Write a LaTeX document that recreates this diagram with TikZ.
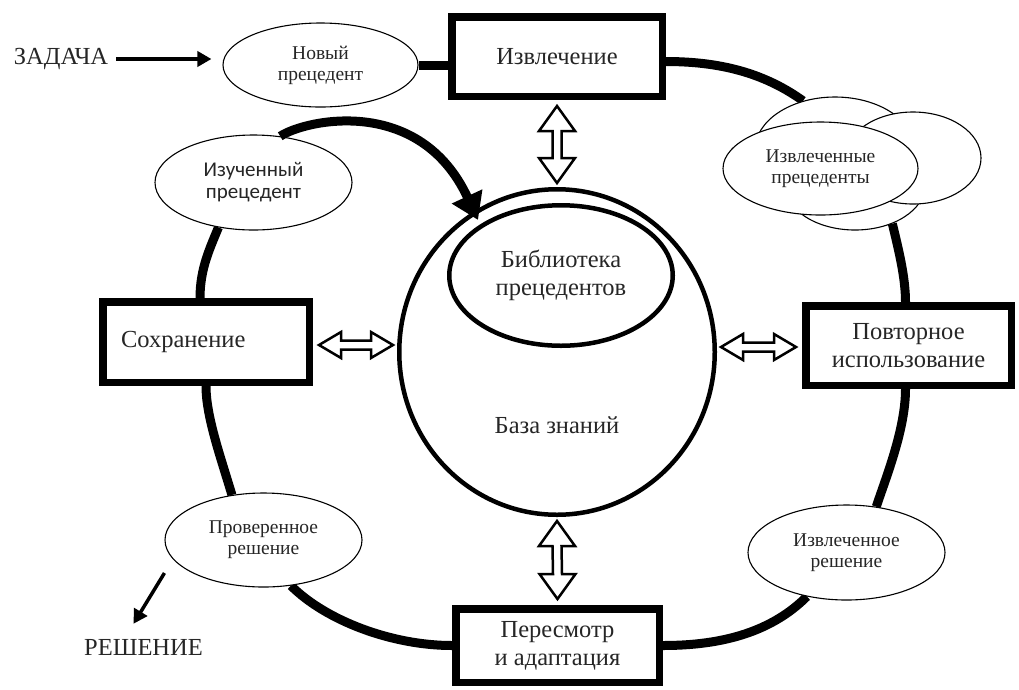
\documentclass[tikz,border=0pt]{standalone}
\usepackage{fontspec}
\setmainfont{Liberation Serif}
\newfontfamily\sansf{Carlito}
\usetikzlibrary{arrows.meta,calc,shapes.geometric}
\pgfdeclarelayer{bg}
\pgfsetlayers{bg,main}
\newcommand\vdarrow[2]{\draw[hollow] (#1) -- ++(18,25) -- ++(-13.5,0) -- ($(#2)+(4.5,-25)$) -- ++(13.5,0) -- (#2) -- ++(-18,-25) -- ++(13.5,0) -- ($(#1)+(-4.5,25)$) -- ++(-13.5,0) -- cycle;}
\newcommand\hdarrow[2]{\draw[hollow] (#1) -- ++(22,-13) -- ++(0,8.5) -- ($(#2)+(-22,-4.5)$) -- ++(0,-8.5) -- (#2) -- ++(-22,13) -- ++(0,-8.5) -- ($(#1)+(22,4.5)$) -- ++(0,8.5) -- cycle;}
\begin{document}
\begin{tikzpicture}[x=1pt,y=-1pt,
  big/.style={font=\fontsize{24.5}{28}\selectfont, text=black!85, align=center},
  small/.style={font=\fontsize{19.5}{21}\selectfont, text=black!85, align=center},
  stage/.style={draw, rectangle, line width=7.5pt, fill=white, inner sep=0pt, big},
  oval/.style={draw, ellipse, line width=1.1pt, fill=white, inner sep=0pt, small},
  cyc/.style={line width=9pt},
  hollow/.style={line width=2.5pt, fill=white, draw, line join=miter, miter limit=10},
  thinarr/.style={line width=3.5pt, -{Triangle[length=14pt,width=15pt]}}
]
\useasboundingbox (0,0) rectangle (1019,689);

% stages
\node[stage, minimum width=210.5pt, minimum height=79.5pt] (ext) at (557,56.5) {Извлечение};
\node[stage, minimum width=205.5pt, minimum height=79.5pt] (pov) at (908.5,345.5) {Повторное\\использование};
\node[stage, minimum width=203.5pt, minimum height=73.5pt] (rev) at (557.5,645.5) {Пересмотр\\и адаптация};
\node[stage, minimum width=206.5pt, minimum height=80.5pt, text width=170pt, align=left] (sohr) at (206,342) {Сохранение};

% ovals
\node[oval, minimum width=195pt, minimum height=84pt] (new) at (320.5,65) {Новый\\прецедент};
\node[oval, minimum width=197pt, minimum height=95pt, font=\sansf\fontsize{21}{22}\selectfont] (izuch) at (253.5,182.5) {Изученный\\прецедент};
\node[oval, minimum width=197pt, minimum height=94pt] (prov) at (263.5,540) {Проверенное\\решение};
\node[oval, minimum width=197pt, minimum height=95pt] (isol) at (846.5,552.5) {Извлеченное\\решение};

% cloud of retrieved cases
\node[oval, minimum width=140pt, minimum height=90pt] (cloudC) at (855,185) {};
\node[oval, minimum width=160pt, minimum height=106pt] (cloudA) at (835,150) {};
\node[oval, minimum width=136pt, minimum height=92pt] (cloudB) at (913,158) {};
\node[oval, minimum width=195pt, minimum height=93pt] (cloudF) at (820.5,168.5) {Извлеченные\\прецеденты};

% knowledge base
\node[draw, ellipse, line width=4.5pt, inner sep=0pt, minimum width=315.5pt, minimum height=325.5pt] (kb) at (557,352) {};
\node[draw, ellipse, line width=4.5pt, inner sep=0pt, minimum width=223.5pt, minimum height=140.5pt, big] (lib) at (561,275.5) {Библиотека\\прецедентов};
\node[big, inner sep=0pt] (kbt) at (557,425) {База знаний};

% task / solution
\node[big, inner sep=0pt] (zad) at (61,59) {ЗАДАЧА};
\node[big, inner sep=0pt] (resh) at (143.5,647) {РЕШЕНИЕ};

% cycle
\begin{pgfonlayer}{bg}
\draw[cyc] (new.east) -- (new.east -| ext.west);
\draw[cyc] ($(ext.east)+(0,5)$) .. controls +(60,0) and +(-35,-25) .. (cloudA.123);
\draw[cyc] (cloudC.-46) .. controls +(6,25) and +(0,-25) .. ($(pov.north)+(-3,0)$);
\draw[cyc] ($(pov.south)+(-3,0)$) .. controls +(0,40) and +(10,-30) .. (isol.57);
\draw[cyc] (isol.-132) .. controls +(-35,35) and +(60,0) .. (rev.east);
\draw[cyc] (rev.west) .. controls +(-60,0) and +(35,35) .. (prov.-59);
\draw[cyc] (prov.125) .. controls +(-12,-40) and +(0,30) .. (sohr.south);
\draw[cyc] ($(sohr.north)+(-6,0)$) .. controls +(0,-30) and +(-8,20) .. (izuch.-128);
\end{pgfonlayer}

\coordinate (libtip) at (478,220);
\draw[cyc, -{Triangle[length=26pt,width=32pt]}] (izuch.60) .. controls +(26,-17) and +(-58,-125) .. (libtip);

% task arrows
\draw[thinarr, shorten <=8pt, shorten >=11pt] (zad.east) -- (new.west |- zad.east);
\draw[thinarr] ($(prov.west)+(0,33)$) -- ($(resh.north)+(-10,-15)$);

% double arrows
\coordinate (a1) at ($(ext.south)+(0,6)$);
\coordinate (a2) at ($(kb.north)+(0,-4)$);
\coordinate (b1) at ($(kb.south)+(0,4)$);
\coordinate (b2) at ($(rev.north)+(0,-6)$);
\coordinate (c1) at ($(sohr.east)+(6,3)$);
\coordinate (c2) at ($(kb.west |- c1)+(-4,0)$);
\coordinate (d2) at ($(pov.west)+(-6,1.5)$);
\coordinate (d1) at ($(kb.east |- d2)+(4,0)$);
\vdarrow{a1}{a2}
\vdarrow{b1}{b2}
\hdarrow{c1}{c2}
\hdarrow{d1}{d2}
\end{tikzpicture}
\end{document}
